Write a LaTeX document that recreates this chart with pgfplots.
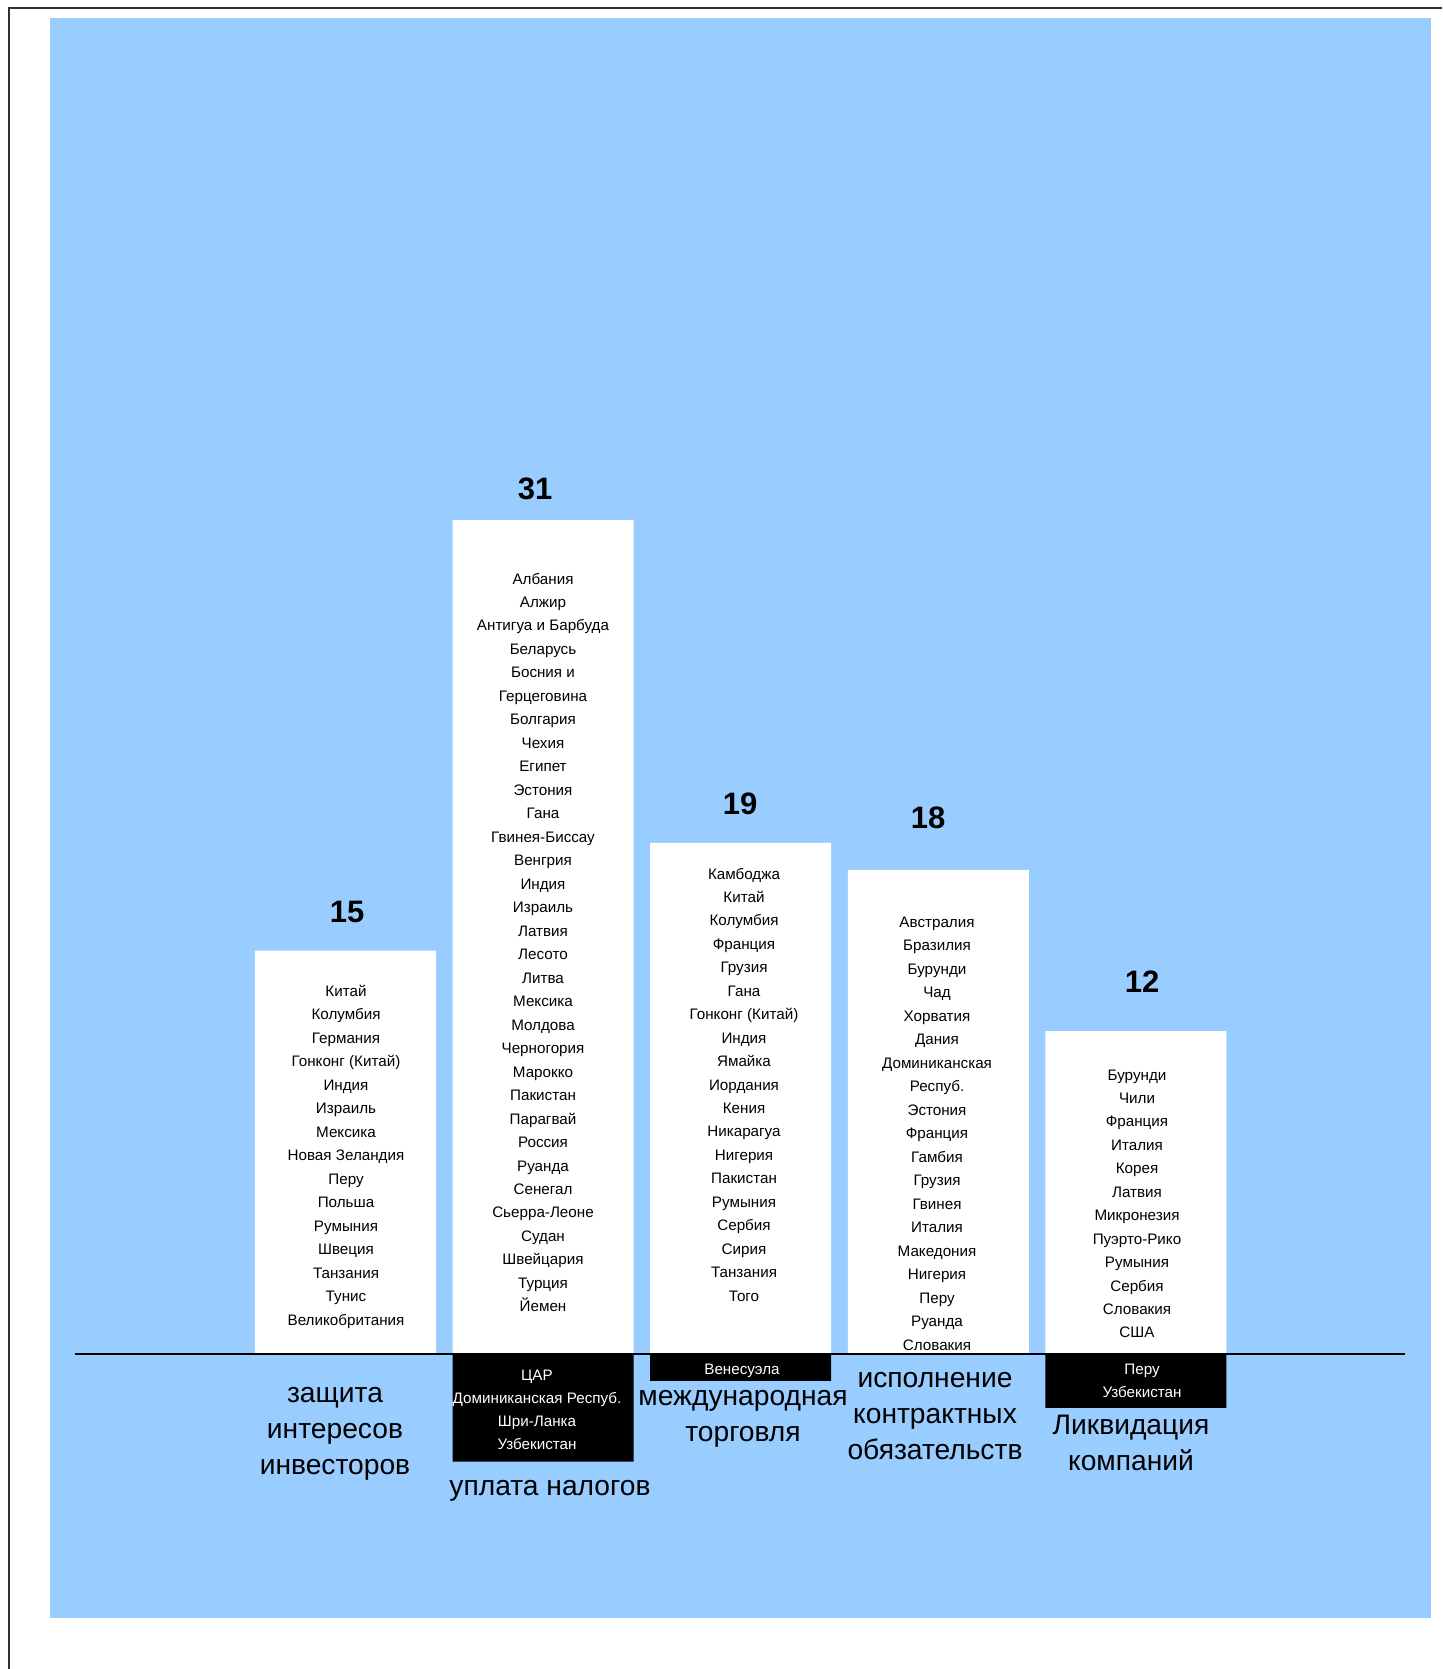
\documentclass[border=0pt]{standalone}
\usepackage{fontspec}
\setmainfont{Liberation Sans}
\usepackage{pgfplots}
\pgfplotsset{compat=1.18}
\definecolor{bg}{HTML}{99CCFF}
\definecolor{framec}{HTML}{303030}
\begin{document}
\begin{tikzpicture}
\begin{axis}[
  at={(25pt,-9pt)}, anchor=north west,
  scale only axis, width=690.5pt, height=800pt,
  xmin=-1.4954, xmax=5.4934, ymin=-9.814, ymax=49.665,
  axis background/.style={fill=bg},
  axis line style={draw=none},
  xtick=\empty, ytick=\empty,
  clip=false,
]
\addplot[ybar, bar width=0.916, bar shift=0pt, fill=white, draw=none]
  coordinates {(0,15) (1,31) (2,19) (3,18) (4,12)};
\addplot[ybar, bar width=0.916, bar shift=0pt, fill=black, draw=none]
  coordinates {(1,-4) (2,-1) (4,-2)};
\draw[line width=1pt, black] (axis cs:-1.369,0) -- (axis cs:5.362,0);
\end{axis}
\begin{scope}[x=0.5pt, y=-0.5pt]
\tikzset{lst/.style={font=\fontsize{7.6}{9}\selectfont, anchor=base, inner sep=0pt},
         val/.style={font=\bfseries\fontsize{15.5}{18}\selectfont, anchor=center, inner sep=0pt},
         cat/.style={font=\fontsize{14.1}{18}\selectfont, anchor=base, inner sep=0pt}}
% value labels
\node[val] at (347,912) {15};
\node[val] at (535,489) {31};
\node[val] at (740,804) {19};
\node[val] at (928,818) {18};
\node[val] at (1142,982) {12};
% lists
\foreach \n [count=\i from 0] in {Китай, Колумбия, Германия, Гонконг (Китай), Индия, Израиль, Мексика, Новая Зеландия, Перу, Польша, Румыния, Швеция, Танзания, Тунис, Великобритания}
  \node[lst] at (346, 996+23.5*\i) {\n};
\foreach \n [count=\i from 0] in {Албания, Алжир, Антигуа и Барбуда, Беларусь, Босния и, Герцеговина, Болгария, Чехия, Египет, Эстония, Гана, Гвинея-Биссау, Венгрия, Индия, Израиль, Латвия, Лесото, Литва, Мексика, Молдова, Черногория, Марокко, Пакистан, Парагвай, Россия, Руанда, Сенегал, Сьерра-Леоне, Судан, Швейцария, Турция, Йемен}
  \node[lst] at (543, 584+23.48*\i) {\n};
\foreach \n [count=\i from 0] in {Камбоджа, Китай, Колумбия, Франция, Грузия, Гана, Гонконг (Китай), Индия, Ямайка, Иордания, Кения, Никарагуа, Нигерия, Пакистан, Румыния, Сербия, Сирия, Танзания, Того}
  \node[lst] at (744, 879+23.45*\i) {\n};
\foreach \n [count=\i from 0] in {Австралия, Бразилия, Бурунди, Чад, Хорватия, Дания, Доминиканская, Респуб., Эстония, Франция, Гамбия, Грузия, Гвинея, Италия, Македония, Нигерия, Перу, Руанда, Словакия}
  \node[lst] at (937, 927+23.5*\i) {\n};
\foreach \n [count=\i from 0] in {Бурунди, Чили, Франция, Италия, Корея, Латвия, Микронезия, Пуэрто-Рико, Румыния, Сербия, Словакия, США}
  \node[lst] at (1137, 1080+23.45*\i) {\n};
% black bar texts
\foreach \n [count=\i from 0] in {ЦАР, Доминиканская Респуб., Шри-Ланка, Узбекистан}
  \node[lst, text=white] at (537, 1380+23.3*\i) {\n};
\node[lst, text=white] at (742, 1374) {Венесуэла};
\foreach \n [count=\i from 0] in {Перу, Узбекистан}
  \node[lst, text=white] at (1142, 1374+23*\i) {\n};
% category labels
\foreach \n [count=\i from 0] in {защита, интересов, инвесторов}
  \node[cat] at (335, 1402+36*\i) {\n};
\node[cat] at (550, 1495) {уплата налогов};
\foreach \n [count=\i from 0] in {международная, торговля}
  \node[cat] at (743, 1405+36*\i) {\n};
\foreach \n [count=\i from 0] in {исполнение, контрактных, обязательств}
  \node[cat] at (935, 1387+36*\i) {\n};
\foreach \n [count=\i from 0] in {Ликвидация, компаний}
  \node[cat] at (1131, 1434+36*\i) {\n};
% frame
\draw[framec, line width=1pt] (8.5,1669) -- (8.5,8.5) -- (1442,8.5);
\end{scope}
\pgfresetboundingbox
\useasboundingbox (0,0) rectangle (721pt,-834.5pt);
\end{tikzpicture}
\end{document}
